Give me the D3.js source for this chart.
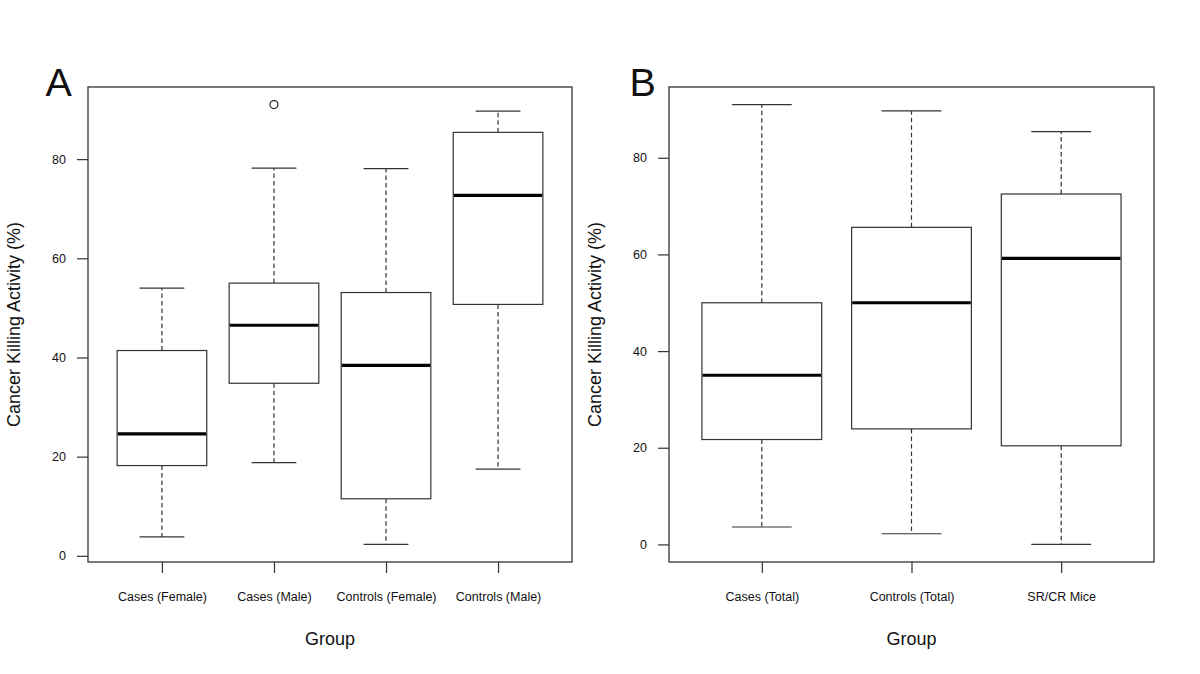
<!DOCTYPE html>
<html>
<head>
<meta charset="utf-8">
<script src="https://cdn.jsdelivr.net/npm/d3@7"></script>
<style>
  html, body { margin: 0; padding: 0; background: #fff; }
  svg { display: block; }
  text { font-family: "Liberation Sans", Arial, Helvetica, sans-serif; fill: #111; }
</style>
</head>
<body>
<svg id="chart" width="1200" height="674"></svg>
<script>
// ---- Data ----
const catsA = ["Cases (Female)", "Cases (Male)", "Controls (Female)", "Controls (Male)"];
const lowA    = [3.8, 18.8, 2.3, 17.5];
const q1A     = [18.2, 34.8, 11.5, 50.7];
const medA    = [24.6, 46.5, 38.4, 72.7];
const q3A     = [41.4, 55.0, 53.1, 85.4];
const highA   = [54.0, 78.2, 78.1, 89.7];
const outA    = [[], [91.0], [], []];

const catsB = ["Cases (Total)", "Controls (Total)", "SR/CR Mice"];
const lowB    = [3.6, 2.2, 0.0];
const q1B     = [21.7, 23.9, 20.4];
const medB    = [35.0, 50.0, 59.2];
const q3B     = [50.0, 65.6, 72.5];
const highB   = [91.0, 89.7, 85.4];
const outB    = [[], [], []];

const yTicks = [0, 20, 40, 60, 80];
const yTitle = "Cancer Killing Activity (%)";
const xTitle = "Group";

const svg = d3.select("#chart");
const stroke = "#333";

function panel(opts) {
  const { left, right, top, bottom, cats, low, q1, med, q3, high, out, letter, letterX } = opts;
  const n = cats.length;
  const g = svg.append("g");

  // x scale: positions 1..n, R-style limits [0.5, n+0.5] extended by 4%
  const xr = n; // range of (0.5 .. n+0.5)
  const x = d3.scaleLinear()
    .domain([0.5 - 0.04 * xr, n + 0.5 + 0.04 * xr])
    .range([left, right]);

  // y scale: data extent extended by 4% (R default)
  const all = [].concat(low, high, ...out);
  const mn = d3.min(all), mx = d3.max(all);
  const pad = (mx - mn) * 0.04;
  const y = d3.scaleLinear().domain([mn - pad, mx + pad]).range([bottom, top]);

  const unit = x(2) - x(1);
  const boxW = 0.8 * unit;
  const capW = 0.4 * unit;

  const data = cats.map((c, i) => ({ c, i, pos: i + 1, low: low[i], q1: q1[i], med: med[i], q3: q3[i], high: high[i], out: out[i] }));

  const bx = g.selectAll("g.box").data(data).join("g").attr("class", "box");

  // whiskers (dashed)
  bx.append("line")
    .attr("x1", d => x(d.pos)).attr("x2", d => x(d.pos))
    .attr("y1", d => y(d.q3)).attr("y2", d => y(d.high))
    .attr("stroke", stroke).attr("stroke-width", 1.2).attr("stroke-dasharray", "4.5,3");
  bx.append("line")
    .attr("x1", d => x(d.pos)).attr("x2", d => x(d.pos))
    .attr("y1", d => y(d.q1)).attr("y2", d => y(d.low))
    .attr("stroke", stroke).attr("stroke-width", 1.2).attr("stroke-dasharray", "4.5,3");
  // caps
  bx.append("line")
    .attr("x1", d => x(d.pos) - capW / 2).attr("x2", d => x(d.pos) + capW / 2)
    .attr("y1", d => y(d.high)).attr("y2", d => y(d.high))
    .attr("stroke", stroke).attr("stroke-width", 1.2);
  bx.append("line")
    .attr("x1", d => x(d.pos) - capW / 2).attr("x2", d => x(d.pos) + capW / 2)
    .attr("y1", d => y(d.low)).attr("y2", d => y(d.low))
    .attr("stroke", stroke).attr("stroke-width", 1.2);
  // box
  bx.append("rect")
    .attr("x", d => x(d.pos) - boxW / 2).attr("width", boxW)
    .attr("y", d => y(d.q3)).attr("height", d => y(d.q1) - y(d.q3))
    .attr("fill", "#fff").attr("stroke", stroke).attr("stroke-width", 1.2);
  // median
  bx.append("line")
    .attr("x1", d => x(d.pos) - boxW / 2 + 0.6).attr("x2", d => x(d.pos) + boxW / 2 - 0.6)
    .attr("y1", d => y(d.med)).attr("y2", d => y(d.med))
    .attr("stroke", "#000").attr("stroke-width", 3.2);
  // outliers
  bx.selectAll("circle").data(d => d.out.map(v => ({ v, pos: d.pos }))).join("circle")
    .attr("cx", d => x(d.pos)).attr("cy", d => y(d.v)).attr("r", 4)
    .attr("fill", "none").attr("stroke", "#222").attr("stroke-width", 1.2);

  // frame
  g.append("rect")
    .attr("x", left).attr("y", top).attr("width", right - left).attr("height", bottom - top)
    .attr("fill", "none").attr("stroke", stroke).attr("stroke-width", 1.3);

  // y axis
  const ya = g.append("g").attr("transform", `translate(${left},0)`)
    .call(d3.axisLeft(y).tickValues(yTicks).tickSize(11).tickPadding(11).tickFormat(d3.format("d")));
  ya.select(".domain").remove();
  ya.selectAll(".tick line").attr("stroke", stroke).attr("stroke-width", 1.2);
  ya.selectAll(".tick text").attr("font-size", 12.5).attr("fill", "#111")
    .attr("font-family", '"Liberation Sans", Arial, sans-serif');

  // x axis
  const xa = g.append("g").attr("transform", `translate(0,${bottom})`)
    .call(d3.axisBottom(x).tickValues(data.map(d => d.pos)).tickSize(11).tickPadding(19)
      .tickFormat(v => cats[v - 1]));
  xa.select(".domain").remove();
  xa.selectAll(".tick line").attr("stroke", stroke).attr("stroke-width", 1.2);
  xa.selectAll(".tick text").attr("font-size", 12.5).attr("fill", "#111")
    .attr("font-family", '"Liberation Sans", Arial, sans-serif');

  // titles
  g.append("text")
    .attr("transform", `translate(${left - 68},${(top + bottom) / 2}) rotate(-90)`)
    .attr("text-anchor", "middle").attr("font-size", 18)
    .text(yTitle);
  g.append("text")
    .attr("x", (left + right) / 2).attr("y", 645)
    .attr("text-anchor", "middle").attr("font-size", 18)
    .text(xTitle);

  // panel letter
  g.append("text")
    .attr("x", letterX).attr("y", 95.5)
    .attr("font-size", 39.5)
    .text(letter);
}

panel({ left: 88, right: 572, top: 87, bottom: 562,
  cats: catsA, low: lowA, q1: q1A, med: medA, q3: q3A, high: highA, out: outA,
  letter: "A", letterX: 45.5 });

panel({ left: 669, right: 1154, top: 87, bottom: 562,
  cats: catsB, low: lowB, q1: q1B, med: medB, q3: q3B, high: highB, out: outB,
  letter: "B", letterX: 629.5 });
</script>
</body>
</html>
